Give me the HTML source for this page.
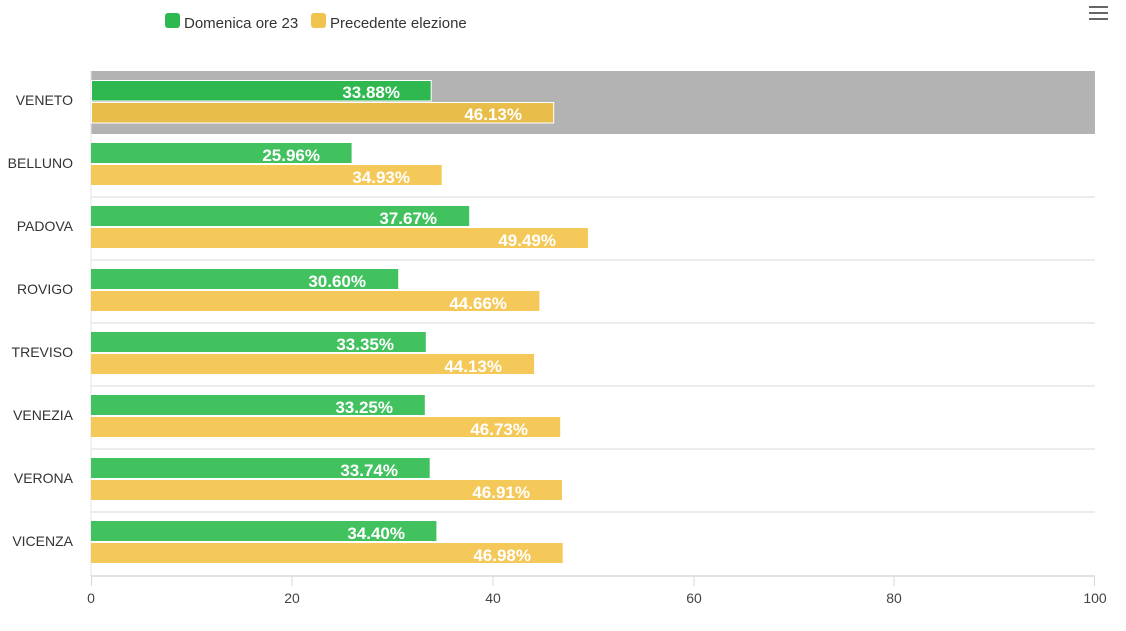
<!DOCTYPE html>
<html><head><meta charset="utf-8"><style>
html,body{margin:0;padding:0;background:#fff;}
svg{display:block;font-family:"Liberation Sans",Arial,sans-serif;}
</style></head><body>
<svg width="1126" height="631" viewBox="0 0 1126 631" xmlns="http://www.w3.org/2000/svg">
<rect x="165" y="13" width="15" height="15" rx="3" fill="#2fb84f"/>
<text x="184" y="28" font-size="15" fill="#333">Domenica ore 23</text>
<rect x="311" y="13" width="15" height="15" rx="3" fill="#f0c24e"/>
<text x="330" y="28" font-size="15" fill="#333">Precedente elezione</text>
<rect x="1089" y="6" width="19" height="2" fill="#666"/>
<rect x="1089" y="12" width="19" height="2" fill="#666"/>
<rect x="1089" y="18" width="19" height="2" fill="#666"/>
<rect x="91" y="71" width="1004" height="63" fill="#b3b3b3"/>
<g stroke="#e6e6e6" stroke-width="1.5">
<line x1="91" y1="197" x2="1095" y2="197"/>
<line x1="91" y1="260" x2="1095" y2="260"/>
<line x1="91" y1="323" x2="1095" y2="323"/>
<line x1="91" y1="386" x2="1095" y2="386"/>
<line x1="91" y1="449" x2="1095" y2="449"/>
<line x1="91" y1="512" x2="1095" y2="512"/>
</g>
<line x1="91" y1="71" x2="91" y2="576" stroke="#e6e6e6" stroke-width="1"/>
<line x1="91" y1="576" x2="1095" y2="576" stroke="#d8d8d8" stroke-width="1.5"/>
<g stroke="#d8d8d8" stroke-width="1">
<line x1="91.5" y1="576" x2="91.5" y2="586"/>
<line x1="292" y1="576" x2="292" y2="586"/>
<line x1="493" y1="576" x2="493" y2="586"/>
<line x1="694" y1="576" x2="694" y2="586"/>
<line x1="894" y1="576" x2="894" y2="586"/>
<line x1="1094.5" y1="576" x2="1094.5" y2="586"/>
</g>
<g font-size="14" fill="#444" text-anchor="middle">
<text x="91" y="603">0</text><text x="292" y="603">20</text><text x="493" y="603">40</text>
<text x="694" y="603">60</text><text x="894" y="603">80</text><text x="1095" y="603">100</text>
</g>
<g font-size="14" fill="#333" text-anchor="end">
<text x="73" y="105">VENETO</text>
<text x="73" y="168">BELLUNO</text>
<text x="73" y="231">PADOVA</text>
<text x="73" y="294">ROVIGO</text>
<text x="73" y="357">TREVISO</text>
<text x="73" y="420">VENEZIA</text>
<text x="73" y="483">VERONA</text>
<text x="73" y="546">VICENZA</text>
</g>
<g>
<rect x="91.5" y="80.5" width="339.7" height="20.5" fill="#2fb84f" stroke="#fff" stroke-width="1"/>
<rect x="91.5" y="102.5" width="462.2" height="20.5" fill="#e9bd4a" stroke="#fff" stroke-width="1"/>
<rect x="91" y="143" width="260.6" height="20" fill="#41c25e"/>
<rect x="91" y="165" width="350.7" height="20" fill="#f4c95a"/>
<rect x="91" y="206" width="378.2" height="20" fill="#41c25e"/>
<rect x="91" y="228" width="496.9" height="20" fill="#f4c95a"/>
<rect x="91" y="269" width="307.2" height="20" fill="#41c25e"/>
<rect x="91" y="291" width="448.4" height="20" fill="#f4c95a"/>
<rect x="91" y="332" width="334.8" height="20" fill="#41c25e"/>
<rect x="91" y="354" width="443.1" height="20" fill="#f4c95a"/>
<rect x="91" y="395" width="333.8" height="20" fill="#41c25e"/>
<rect x="91" y="417" width="469.2" height="20" fill="#f4c95a"/>
<rect x="91" y="458" width="338.7" height="20" fill="#41c25e"/>
<rect x="91" y="480" width="471.0" height="20" fill="#f4c95a"/>
<rect x="91" y="521" width="345.4" height="20" fill="#41c25e"/>
<rect x="91" y="543" width="471.7" height="20" fill="#f4c95a"/>
</g>
<g font-size="17" font-weight="bold" fill="#fff" text-anchor="end">
<text x="400" y="98">33.88%</text>
<text x="522" y="120">46.13%</text>
<text x="320" y="161">25.96%</text>
<text x="410" y="183">34.93%</text>
<text x="437" y="224">37.67%</text>
<text x="556" y="246">49.49%</text>
<text x="366" y="287">30.60%</text>
<text x="507" y="309">44.66%</text>
<text x="394" y="350">33.35%</text>
<text x="502" y="372">44.13%</text>
<text x="393" y="413">33.25%</text>
<text x="528" y="435">46.73%</text>
<text x="398" y="476">33.74%</text>
<text x="530" y="498">46.91%</text>
<text x="405" y="539">34.40%</text>
<text x="531" y="561">46.98%</text>
</g>
</svg>
</body></html>
